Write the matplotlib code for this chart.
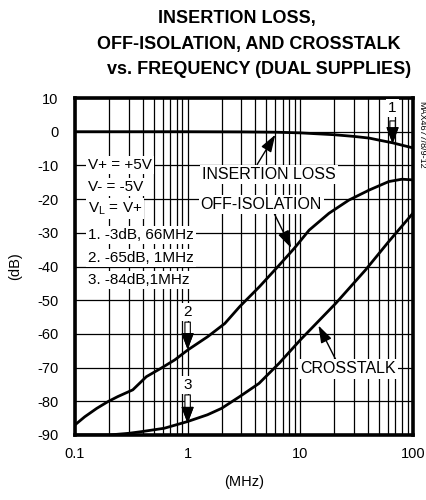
import matplotlib
matplotlib.use('Agg')
import matplotlib.pyplot as plt
from matplotlib.ticker import LogLocator, NullFormatter, FixedLocator, FixedFormatter

plt.rcParams['font.family'] = ['Liberation Sans', 'DejaVu Sans']
plt.rcParams['axes.unicode_minus'] = False

# Data
il_f = [0.1, 0.3, 1, 3, 6.2, 10, 20, 30, 41, 50, 66, 80, 100]
il_db = [0, 0, 0, -0.05, -0.15, -0.35, -0.9, -1.4, -1.9, -2.5, -3.3, -4.0, -4.8]

iso_f = [0.1, 0.122, 0.156, 0.196, 0.24, 0.326, 0.43, 0.58, 0.77, 1.0, 1.51, 2.14,
         2.9, 4.34, 6.5, 8.85, 12, 18, 27, 41, 61, 80, 100]
iso_db = [-87, -84.6, -82.1, -80.1, -78.6, -76.6, -72.7, -70.2, -67.7, -64.8, -60.8, -56.9,
          -51.9, -46, -39.6, -34.6, -29.2, -24.2, -20.3, -17.3, -14.8, -14.1, -14.3]

xt_f = [0.1, 0.2, 0.3, 0.39, 0.62, 1.0, 1.5, 2.0, 2.9, 4.3, 6.5, 10, 20.7, 38, 61, 100]
xt_db = [-90, -90, -89.5, -89, -88, -86, -84, -82.1, -78.6, -74.7, -68.7, -61.8,
         -50.9, -41, -32.6, -24.2]

x_ticks = [0.1, 1, 10, 100]
x_labels = ['0.1', '1', '10', '100']
y_ticks = list(range(-90, 11, 10))

fig = plt.figure(figsize=(4.27, 5.0), dpi=100)
ax = fig.add_axes([0.1756, 0.13, 0.7914, 0.674])

ax.set_xscale('log')
ax.set_xlim(0.1, 100)
ax.set_ylim(-90, 10)

# grid
ax.xaxis.set_major_locator(FixedLocator(x_ticks))
ax.xaxis.set_major_formatter(FixedFormatter(x_labels))
ax.xaxis.set_minor_locator(LogLocator(base=10, subs=range(2, 10)))
ax.xaxis.set_minor_formatter(NullFormatter())
ax.set_yticks(y_ticks)
ax.grid(True, which='both', color='black', lw=0.9)
ax.tick_params(which='both', length=0, labelsize=10.5)
ax.tick_params(axis='y', pad=12)
ax.tick_params(axis='x', pad=9)
for s in ax.spines.values():
    s.set_linewidth(2.6)

ax.plot(il_f, il_db, color='black', lw=2.0, zorder=3, solid_joinstyle='round')
ax.plot(iso_f, iso_db, color='black', lw=2.0, zorder=3, solid_joinstyle='round')
ax.plot(xt_f, xt_db, color='black', lw=2.0, zorder=3, solid_joinstyle='round')

ax.set_xlabel('(MHz)', fontsize=10.5, labelpad=10)
ax.set_ylabel('(dB)', fontsize=10.5, labelpad=11)

box = dict(facecolor='white', edgecolor='none', pad=1.5)


def label_arrow(relpos):
    return dict(arrowstyle='-|>,head_length=0.75,head_width=0.25', color='black', lw=1.0,
                mutation_scale=14, shrinkA=0, shrinkB=0, relpos=relpos)


ax.annotate('INSERTION LOSS', xy=(6.0, -0.9), xytext=(5.3, -12.6), fontsize=11.5,
            ha='center', va='center', bbox=box, arrowprops=label_arrow((0.4, 1.0)), zorder=5)
ax.annotate('OFF-ISOLATION', xy=(8.3, -34.5), xytext=(4.5, -21.5), fontsize=11.5,
            ha='center', va='center', bbox=box, arrowprops=label_arrow((0.6, 0.0)), zorder=5)
ax.annotate('CROSSTALK', xy=(14.5, -57.5), xytext=(26.6, -70.4), fontsize=11.5,
            ha='center', va='center', bbox=box, arrowprops=label_arrow((0.38, 1.0)), zorder=5)

# numbered markers: hollow shaft, filled head
head = 'simple,head_length=0.8,head_width=0.6,tail_width=0.3'
markers = [('1', 66, 7.0, 3.2, -3.1), ('2', 1, -53.5, -56.5, -64.2), ('3', 1, -75.2, -78.1, -86.1)]
for num, fx, ty, y0, y1 in markers:
    ax.text(fx, ty, num, fontsize=11, ha='center', va='center', bbox=box, zorder=5)
    ax.annotate('', xy=(fx, y1), xytext=(fx, y0), zorder=5,
                arrowprops=dict(arrowstyle=head, fc='white', ec='black', lw=0.8,
                                mutation_scale=13, shrinkA=0, shrinkB=0))
    ax.annotate('', xy=(fx, y1), xytext=(fx, y1 + 4.3), zorder=6,
                arrowprops=dict(arrowstyle=head, fc='black', ec='black', lw=0.8,
                                mutation_scale=13, shrinkA=0, shrinkB=0))

# conditions text
cond = ['V+ = +5V', 'V- = -5V', r'V$_\mathregular{L}$ = V+',
        '1. -3dB, 66MHz', '2. -65dB, 1MHz', '3. -84dB,1MHz']
cond_y = [-9.9, -16.4, -22.8, -30.7, -37.5, -44.1]
for t, y in zip(cond, cond_y):
    ax.text(0.13, y, t, fontsize=11, ha='left', va='center', bbox=box, zorder=5)

fig.text(0.988, 0.73, 'MAX4677/8/9-12', rotation=270, fontsize=6.5, ha='center', va='center')

fig.text(0.555, 0.964, 'INSERTION LOSS,', fontsize=13, weight='bold', ha='center', va='center')
fig.text(0.582, 0.912, 'OFF-ISOLATION, AND CROSSTALK', fontsize=13, weight='bold', ha='center', va='center')
fig.text(0.606, 0.862, 'vs. FREQUENCY (DUAL SUPPLIES)', fontsize=13, weight='bold', ha='center', va='center')

fig.savefig('out.png', dpi=100)
